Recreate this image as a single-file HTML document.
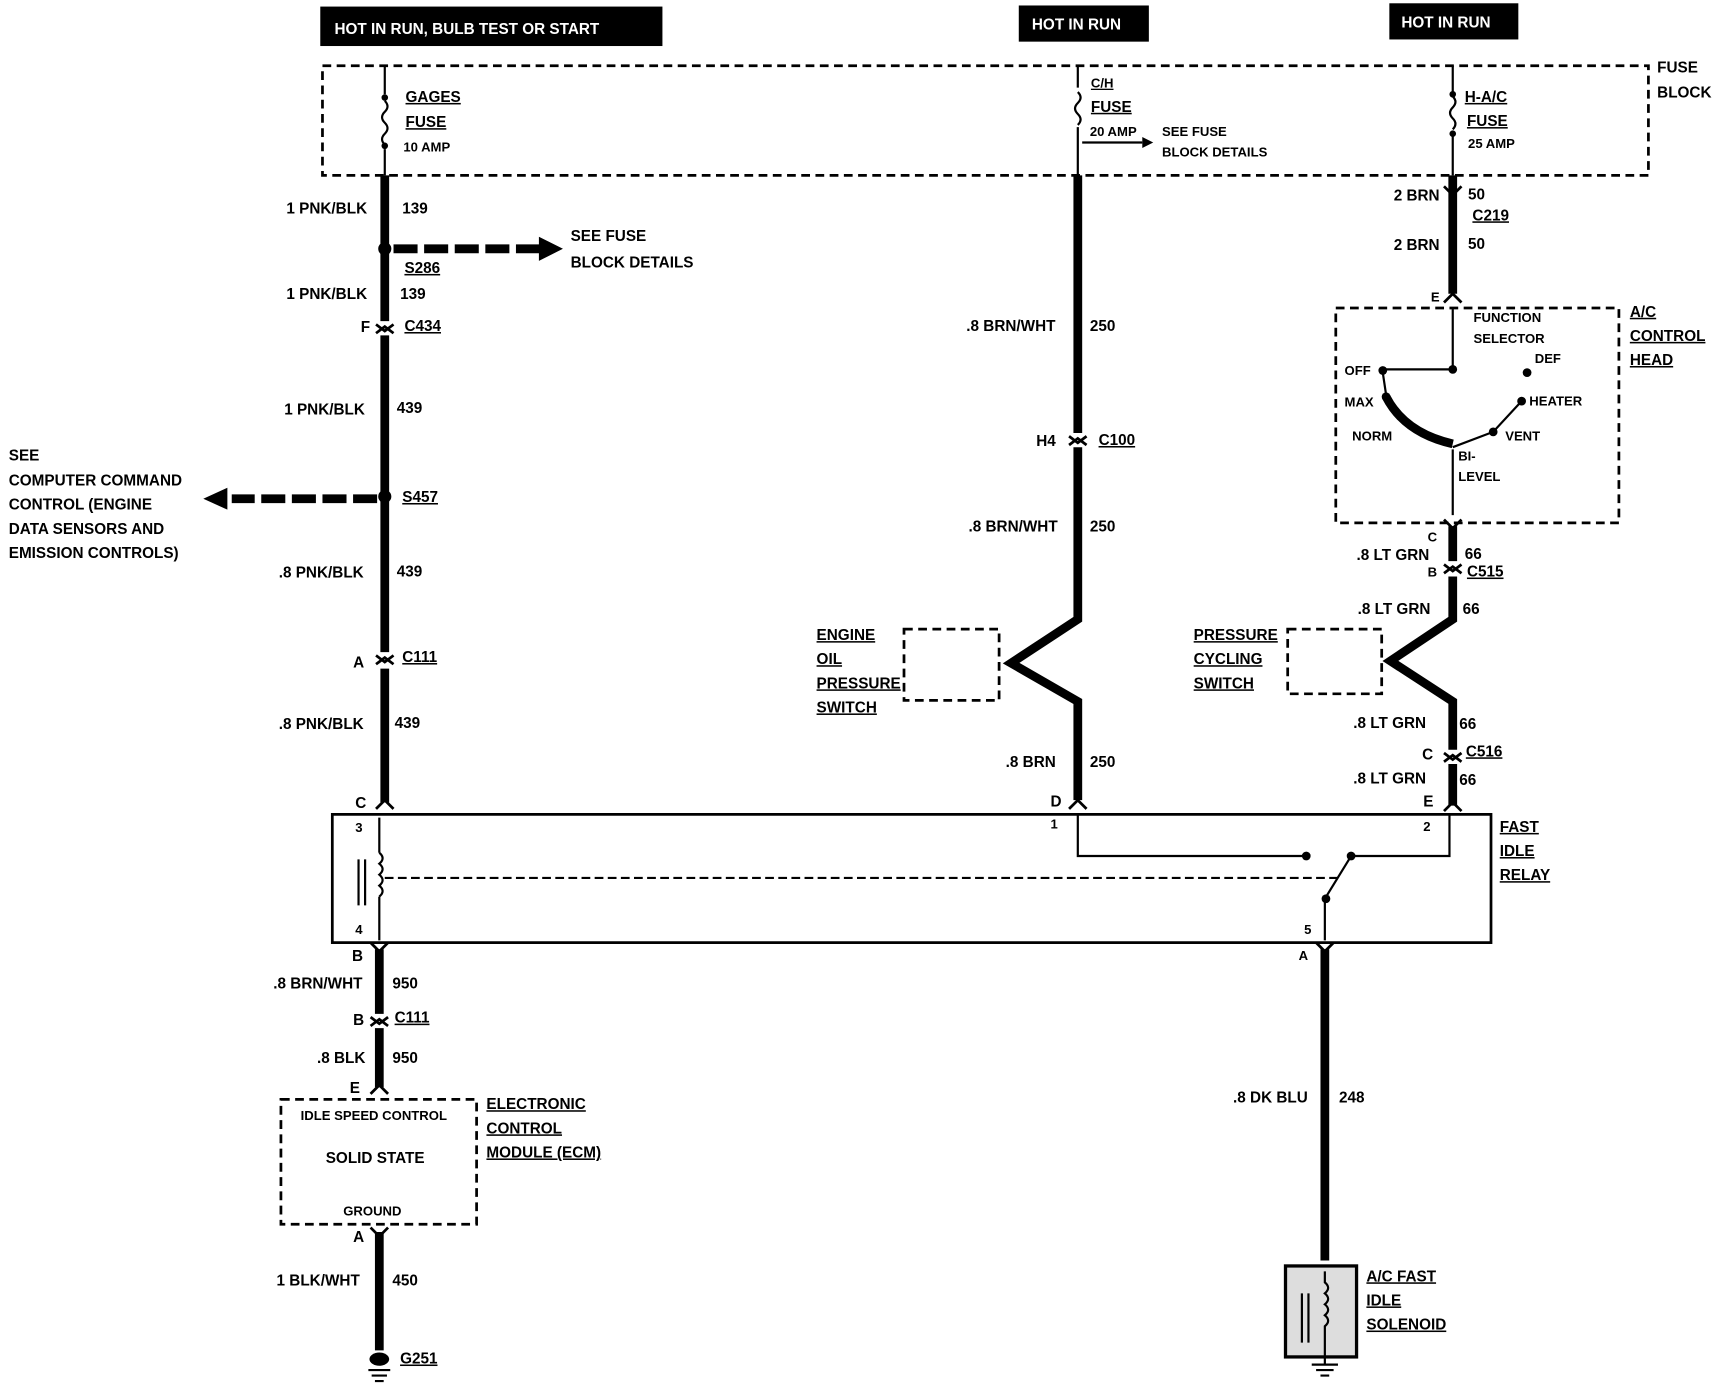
<!DOCTYPE html>
<html><head><meta charset="utf-8"><style>
html,body{margin:0;padding:0;background:#fff;}
svg{display:block}
text{font-family:"Liberation Sans",sans-serif;font-weight:bold;font-size:14px;fill:#000}
.s{font-size:12px}
.u{text-decoration:underline}
</style></head><body>
<svg width="1714" height="1392" viewBox="0 0 1568 1270" preserveAspectRatio="none" xmlns="http://www.w3.org/2000/svg">
<rect width="1568" height="1270" fill="#fff"/>
<!-- top labels -->
<rect x="293" y="6" width="313" height="36" fill="#000"/>
<text x="306" y="31" fill="#fff" style="fill:#fff">HOT IN RUN,  BULB TEST OR START</text>
<rect x="932" y="5" width="119" height="33" fill="#000"/>
<text x="944" y="27" style="fill:#fff">HOT IN RUN</text>
<rect x="1271" y="3" width="118" height="33" fill="#000"/>
<text x="1282" y="25" style="fill:#fff">HOT IN RUN</text>
<!-- fuse block -->
<rect x="295" y="60" width="1213" height="100" fill="none" stroke="#000" stroke-width="2.5" stroke-dasharray="8,5"/>
<text x="1516" y="66">FUSE</text><text x="1516" y="89">BLOCK</text>
<!-- fuses -->
<g fill="none" stroke="#000" stroke-width="2">
<path d="M352 60 V86 M352 92 q5 5 0 10 q-5 5 0 10 q5 5 0 10 q-5 5 0 10 M352 136 V160"/>
<path d="M986 60 V80 M986 84 q5 5 0 10 q-5 5 0 10 q5 5 0 10 M986 116 V160"/>
<path d="M1329 60 V84 M1329 88 q5 5 0 10 q-5 5 0 10 q5 5 0 10 M1329 120 V160"/>
<path d="M990 130 H1045"/>
</g>
<path d="M1045 125 l10 5 l-10 5z"/>
<circle cx="352" cy="89" r="3"/><circle cx="352" cy="133" r="3"/>
<circle cx="1329" cy="86" r="3"/><circle cx="1329" cy="122" r="3"/>
<text x="371" y="93" class="u">GAGES</text><text x="371" y="116" class="u">FUSE</text><text x="369" y="138" class="s">10 AMP</text>
<text x="998" y="80" class="s u">C/H</text><text x="998" y="102" class="u">FUSE</text><text x="997" y="124" class="s">20 AMP</text>
<text x="1063" y="124" class="s">SEE FUSE</text><text x="1063" y="143" class="s">BLOCK DETAILS</text>
<text x="1340" y="93" class="u">H-A/C</text><text x="1342" y="115" class="u">FUSE</text><text x="1343" y="135" class="s">25 AMP</text>
<!-- thick wires -->
<g fill="none" stroke="#000" stroke-width="8" stroke-linejoin="miter">
<path d="M352 160 V293 M352 306 V595 M352 610 V732"/>
<path d="M986 160 V395 M986 408 V565 L925 605 L986 640 V730"/>
<path d="M1329 160 V268 M1329 480 V512 M1329 526 V565 L1272 603 L1329 640 V684 M1329 697 V735"/>
<path d="M347 866 V925 M347 938 V992 M347 1124 V1232"/>
<path d="M1212 866 V1150"/>
</g>
<!-- connector chevrons -->
<g fill="none" stroke="#000" stroke-width="2.5">
<path d="M344 296 l8 6 l8 -6 M344 304 l8 -6 l8 6"/>
<path d="M344 598 l8 6 l8 -6 M344 606 l8 -6 l8 6"/>
<path d="M978 398 l8 6 l8 -6 M978 406 l8 -6 l8 6"/>
<path d="M1321 515 l8 6 l8 -6 M1321 523 l8 -6 l8 6"/>
<path d="M1321 687 l8 6 l8 -6 M1321 695 l8 -6 l8 6"/>
<path d="M339 928 l8 6 l8 -6 M339 936 l8 -6 l8 6"/>
<path d="M1321 170 l8 8 l8 -8"/>
<path d="M344 738 l8 -8 l8 8 M978 738 l8 -8 l8 8 M1321 740 l8 -8 l8 8 M1321 276 l8 -8 l8 8 M1321 474 l8 8 l8 -8"/>
<path d="M339 860 l8 8 l8 -8 M1204 860 l8 8 l8 -8 M339 998 l8 -8 l8 8 M339 1120 l8 8 l8 -8"/>
</g>
<!-- splices and arrows -->
<circle cx="352" cy="227" r="6"/><circle cx="352" cy="453" r="6"/>
<path d="M360 227 H495" stroke="#000" stroke-width="8" stroke-dasharray="22,6"/>
<path d="M493 216 l22 11 l-22 11z"/>
<path d="M345 455 H212" stroke="#000" stroke-width="8" stroke-dasharray="22,6"/>
<path d="M208 445 l-22 10 l22 10z"/>
<!-- left labels -->
<text x="262" y="195">1 PNK/BLK</text><text x="368" y="195">139</text>
<text x="522" y="220">SEE FUSE</text><text x="522" y="244">BLOCK DETAILS</text>
<text x="370" y="249" class="u">S286</text>
<text x="262" y="273">1 PNK/BLK</text><text x="366" y="273">139</text>
<text x="330" y="303">F</text><text x="370" y="302" class="u">C434</text>
<text x="260" y="378">1 PNK/BLK</text><text x="363" y="377">439</text>
<text x="8" y="420">SEE</text><text x="8" y="443">COMPUTER COMMAND</text><text x="8" y="465">CONTROL (ENGINE</text><text x="8" y="487">DATA SENSORS AND</text><text x="8" y="509">EMISSION CONTROLS)</text>
<text x="368" y="458" class="u">S457</text>
<text x="255" y="527">.8 PNK/BLK</text><text x="363" y="526">439</text>
<text x="323" y="609">A</text><text x="368" y="604" class="u">C111</text>
<text x="255" y="665">.8 PNK/BLK</text><text x="361" y="664">439</text>
<text x="325" y="737">C</text>
<!-- middle labels -->
<text x="884" y="302">.8 BRN/WHT</text><text x="997" y="302">250</text>
<text x="948" y="407">H4</text><text x="1005" y="406" class="u">C100</text>
<text x="886" y="485">.8 BRN/WHT</text><text x="997" y="485">250</text>
<text x="747" y="584" class="u">ENGINE</text><text x="747" y="606" class="u">OIL</text><text x="747" y="628" class="u">PRESSURE</text><text x="747" y="650" class="u">SWITCH</text>
<rect x="827" y="574" width="87" height="65" fill="none" stroke="#000" stroke-width="2.5" stroke-dasharray="8,5"/>
<text x="920" y="700">.8 BRN</text><text x="997" y="700">250</text>
<text x="961" y="736">D</text>
<!-- right labels -->
<text x="1275" y="183">2 BRN</text><text x="1343" y="182">50</text>
<text x="1347" y="201" class="u">C219</text>
<text x="1275" y="228">2 BRN</text><text x="1343" y="227">50</text>
<text x="1309" y="275" class="s">E</text>
<text x="1491" y="289" class="u">A/C</text><text x="1491" y="311" class="u">CONTROL</text><text x="1491" y="333" class="u">HEAD</text>
<rect x="1222" y="281" width="259" height="196" fill="none" stroke="#000" stroke-width="2.5" stroke-dasharray="8,5"/>
<text x="1348" y="294" class="s">FUNCTION</text><text x="1348" y="313" class="s">SELECTOR</text>
<text x="1404" y="331" class="s">DEF</text>
<text x="1230" y="342" class="s">OFF</text><text x="1230" y="371" class="s">MAX</text>
<text x="1399" y="370" class="s">HEATER</text>
<text x="1237" y="402" class="s">NORM</text><text x="1377" y="402" class="s">VENT</text>
<text x="1334" y="420" class="s">BI-</text><text x="1334" y="439" class="s">LEVEL</text>
<g fill="none" stroke="#000" stroke-width="2">
<path d="M1329 282 V337 H1265 M1329 410 V470"/>
<path d="M1265 340 L1268 360 M1329 408 L1366 394 L1392 366"/>
</g>
<path d="M1268 362 Q1285 395 1329 405" fill="none" stroke="#000" stroke-width="8"/>
<circle cx="1265" cy="338" r="4"/><circle cx="1329" cy="337" r="4"/><circle cx="1397" cy="340" r="4"/><circle cx="1392" cy="366" r="4"/><circle cx="1366" cy="394" r="4"/><circle cx="1268" cy="362" r="4"/>
<text x="1306" y="494" class="s">C</text>
<text x="1241" y="511">.8 LT GRN</text><text x="1340" y="510">66</text>
<text x="1306" y="526" class="s">B</text><text x="1342" y="526" class="u">C515</text>
<text x="1242" y="560">.8 LT GRN</text><text x="1338" y="560">66</text>
<text x="1092" y="584" class="u">PRESSURE</text><text x="1092" y="606" class="u">CYCLING</text><text x="1092" y="628" class="u">SWITCH</text>
<rect x="1178" y="574" width="86" height="59" fill="none" stroke="#000" stroke-width="2.5" stroke-dasharray="8,5"/>
<text x="1238" y="664">.8 LT GRN</text><text x="1335" y="665">66</text>
<text x="1301" y="693">C</text><text x="1341" y="690" class="u">C516</text>
<text x="1238" y="715">.8 LT GRN</text><text x="1335" y="716">66</text>
<text x="1302" y="736">E</text>
<!-- relay -->
<rect x="304" y="743" width="1060" height="117" fill="none" stroke="#000" stroke-width="2.5"/>
<text x="1372" y="759" class="u">FAST</text><text x="1372" y="781" class="u">IDLE</text><text x="1372" y="803" class="u">RELAY</text>
<text x="325" y="759" class="s">3</text><text x="325" y="852" class="s">4</text>
<text x="961" y="756" class="s">1</text><text x="1302" y="758" class="s">2</text><text x="1193" y="852" class="s">5</text>
<g fill="none" stroke="#000" stroke-width="2">
<path d="M347 746 V778 M347 778 q6 5 0 10 q6 5 0 10 q6 5 0 10 q6 5 0 10 M347 818 V858"/>
<path d="M328 784 V826 M334 784 V826"/>
<path d="M352 801 H1225" stroke-dasharray="8,4"/>
<path d="M986 742 V781 H1195 M1236 781 H1326 V742 M1212 858 V820 L1236 781"/>
</g>
<circle cx="1195" cy="781" r="4"/><circle cx="1236" cy="781" r="4"/><circle cx="1213" cy="820" r="4"/>
<!-- below relay -->
<text x="322" y="877">B</text>
<text x="250" y="902">.8 BRN/WHT</text><text x="359" y="902">950</text>
<text x="323" y="935">B</text><text x="361" y="933" class="u">C111</text>
<text x="290" y="970">.8 BLK</text><text x="359" y="970">950</text>
<text x="320" y="997">E</text>
<rect x="257" y="1003" width="179" height="114" fill="none" stroke="#000" stroke-width="2.5" stroke-dasharray="8,5"/>
<text x="275" y="1022" class="s">IDLE SPEED CONTROL</text>
<text x="298" y="1061">SOLID STATE</text>
<text x="314" y="1109" class="s">GROUND</text>
<text x="445" y="1012" class="u">ELECTRONIC</text><text x="445" y="1034" class="u">CONTROL</text><text x="445" y="1056" class="u">MODULE (ECM)</text>
<text x="323" y="1133">A</text>
<text x="253" y="1173">1 BLK/WHT</text><text x="359" y="1173">450</text>
<text x="366" y="1244" class="u">G251</text>
<ellipse cx="347" cy="1240" rx="9" ry="6"/>
<path d="M337 1250 H357 M340 1255 H354 M343 1260 H351" stroke="#000" stroke-width="2"/>
<text x="1188" y="876" class="s">A</text>
<text x="1128" y="1006">.8 DK BLU</text><text x="1225" y="1006">248</text>
<rect x="1176" y="1155" width="65" height="83" fill="#ddd" stroke="#000" stroke-width="3"/>
<g fill="none" stroke="#000" stroke-width="2">
<path d="M1212 1160 V1170 q6 5 0 10 q6 5 0 10 q6 5 0 10 q6 5 0 10 V1245 M1191 1180 V1225 M1197 1180 V1225"/>
<path d="M1200 1245 H1224 M1204 1250 H1220 M1208 1255 H1216"/>
</g>
<text x="1250" y="1169" class="u">A/C FAST</text><text x="1250" y="1191" class="u">IDLE</text><text x="1250" y="1213" class="u">SOLENOID</text>
</svg>
</body></html>
